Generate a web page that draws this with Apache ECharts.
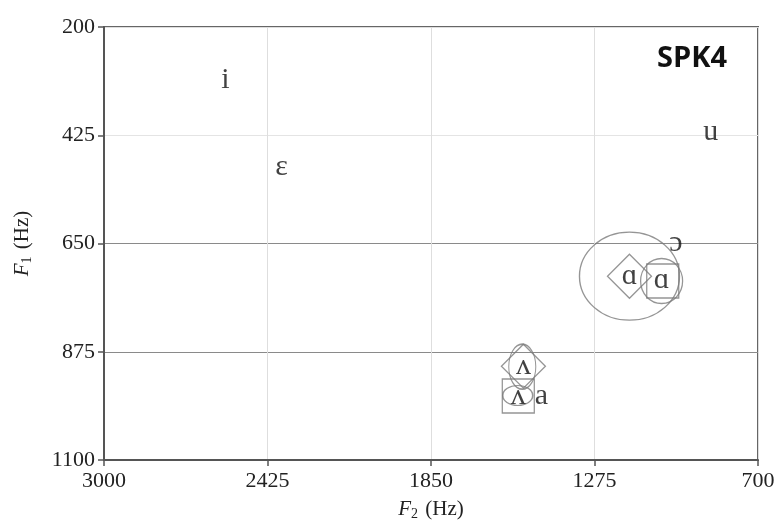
<!DOCTYPE html>
<html>
<head>
<meta charset="utf-8">
<script src="https://cdn.jsdelivr.net/npm/echarts@6/dist/echarts.min.js"></script>
<style>
  html, body { margin: 0; padding: 0; background: #fff; }
  #chart { width: 777px; height: 520px; }
</style>
</head>
<body>
<div id="chart"></div>
<script>
// Vowel formant space for speaker SPK4: F2 (x, reversed) against F1 (y, inverted)
var speaker = 'SPK4';

// Vowel symbols and their mean [F2, F1] in Hz
var vowelLabels = ['i', 'ε', 'u', 'ɔ', 'ɑ', 'ɑ', 'ʌ', 'ʌ', 'a'];
var vowelPoints = [
  [2573, 310],
  [2376, 491],
  [866, 418],
  [989, 649],
  [1152, 718],
  [1039, 726],
  [1525, 905],
  [1543, 967],
  [1462, 967]
];

// Category markers drawn around some of the vowels
var diamondPoints = [[1152, 718], [1525, 905]];
var circlePoints = [[1039, 728]];
var squarePoints = [[1035, 728], [1543, 967]];
var tallEllipsePoints = [[1529, 906]];
var flatEllipsePoints = [[1545, 966]];
var wideEllipsePoints = [[1152, 718]];

// Axis ticks
var f2Ticks = [3000, 2425, 1850, 1275, 700];
var f1Ticks = [200, 425, 650, 875, 1100];

var serif = '"Liberation Serif", "DejaVu Serif", serif';
var markStroke = '#7a7a7a';
var textColor = '#222';

function outline(points, symbol, size) {
  return {
    type: 'scatter',
    data: points,
    symbol: symbol,
    symbolSize: size,
    silent: true,
    itemStyle: { color: 'rgba(0,0,0,0)', borderColor: markStroke, borderWidth: 1.3 },
    z: 3
  };
}

function axisName() {
  return {
    fontFamily: serif, fontSize: 21, color: textColor,
    rich: {
      it: { fontFamily: serif, fontSize: 21, fontStyle: 'italic', color: textColor },
      sub: { fontFamily: serif, fontSize: 14, color: textColor, verticalAlign: 'bottom', padding: [10, 2, 0, 0] }
    }
  };
}

var chart = echarts.init(document.getElementById('chart'));
chart.setOption({
  animation: false,
  backgroundColor: '#fff',
  grid: {
    left: 104, right: 19, top: 27, bottom: 60,
    containLabel: false,
    outerBoundsMode: 'none',
    show: true, borderColor: '#666', borderWidth: 2
  },
  xAxis: {
    type: 'value',
    inverse: true,
    min: f2Ticks[f2Ticks.length - 1],
    max: f2Ticks[0],
    interval: f2Ticks[0] - f2Ticks[1],
    name: '{it|F}{sub|2} (Hz)',
    nameLocation: 'middle',
    nameGap: 37,
    nameTextStyle: axisName(),
    axisLine: { show: true, onZero: false, lineStyle: { color: '#555', width: 2 } },
    axisTick: { show: true, length: 6, lineStyle: { color: '#555', width: 1.5 } },
    axisLabel: {
      fontFamily: serif, fontSize: 22, color: textColor, margin: 10,
      formatter: function (v) { return String(v); }
    },
    splitLine: { show: true, lineStyle: { color: '#dedede', width: 1 } }
  },
  yAxis: {
    type: 'value',
    inverse: true,
    min: f1Ticks[0],
    max: f1Ticks[f1Ticks.length - 1],
    interval: f1Ticks[1] - f1Ticks[0],
    name: '{it|F}{sub|1} (Hz)',
    nameLocation: 'middle',
    nameGap: 70,
    nameRotate: 90,
    nameTextStyle: axisName(),
    axisLine: { show: true, onZero: false, lineStyle: { color: '#555', width: 2 } },
    axisTick: { show: true, length: 6, lineStyle: { color: '#555', width: 1.5 } },
    axisLabel: {
      fontFamily: serif, fontSize: 22, color: textColor, margin: 9,
      formatter: function (v) { return String(v); }
    },
    splitLine: {
      show: true,
      lineStyle: { color: ['#dedede', '#e4e4e4', '#8a8a8a', '#8a8a8a', '#dedede'], width: 1.2 }
    }
  },
  graphic: [{
    type: 'text',
    right: 50,
    top: 44,
    style: {
      text: speaker,
      font: 'bold 29px "Open Sans", "Liberation Sans", sans-serif',
      fill: '#111'
    },
    z: 10
  }],
  series: [
    outline(wideEllipsePoints, 'circle', [100, 88]),
    outline(diamondPoints, 'diamond', [44, 44]),
    outline(circlePoints, 'circle', [42, 45]),
    outline(squarePoints, 'rect', [32, 34]),
    outline(tallEllipsePoints, 'circle', [27, 45]),
    outline(flatEllipsePoints, 'circle', [30, 20]),
    {
      type: 'scatter',
      data: vowelPoints.map(function (p, i) {
        return { value: p, name: vowelLabels[i] };
      }),
      symbolSize: 1,
      silent: true,
      itemStyle: { color: 'rgba(0,0,0,0)' },
      label: {
        show: true,
        position: 'inside',
        formatter: function (d) { return d.name; },
        fontFamily: serif,
        fontSize: 30,
        color: '#111',
        padding: [4, 0, 0, 0]
      },
      z: 5
    }
  ]
});
</script>
</body>
</html>
